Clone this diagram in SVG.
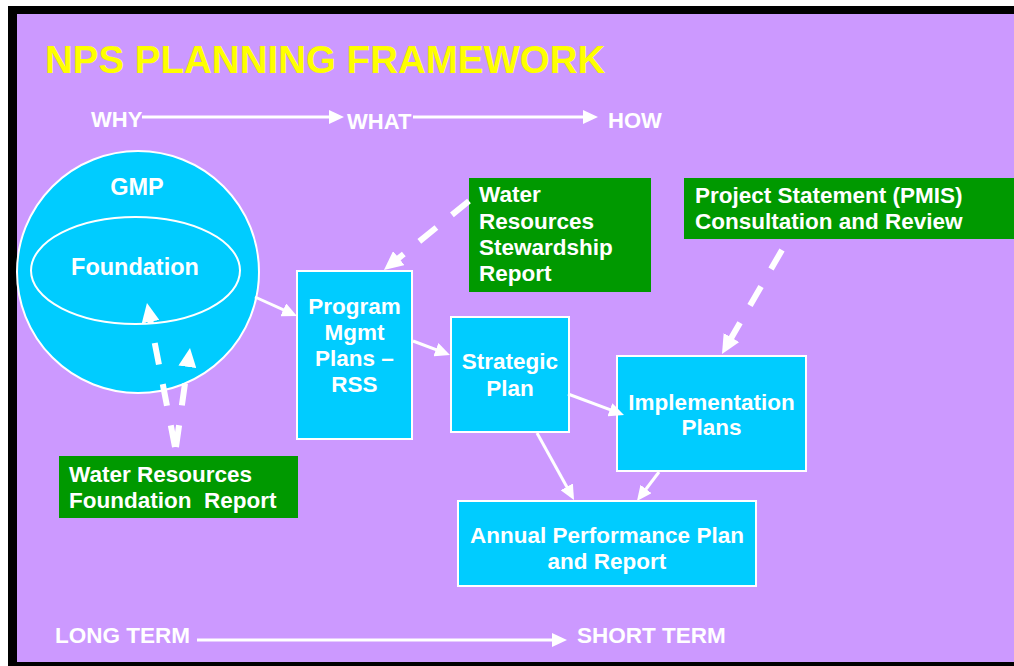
<svg xmlns="http://www.w3.org/2000/svg" width="1014" height="666" viewBox="0 0 1014 666">
  <defs>
    <style>
      .txt { font-family: "Liberation Sans", Arial, sans-serif; font-weight: bold; fill: #FFFFFF; }
      .body { font-size: 22.5px; }
      .axis { font-size: 22px; }
      .mid { text-anchor: middle; }
      .box { fill: #00CCFF; stroke: #FFFFFF; stroke-width: 2; }
      .note { fill: #009900; }
      .solid { fill: none; stroke: #FFFFFF; stroke-width: 3; marker-end: url(#head); }
      .dash { fill: none; stroke: #FFFFFF; stroke-width: 6; stroke-dasharray: 22 20; marker-end: url(#dhead); }
    </style>
    <!-- solid arrowhead: tip sits 5px beyond the line end -->
    <marker id="head" viewBox="0 0 15 14" markerWidth="15" markerHeight="14" markerUnits="userSpaceOnUse" refX="10" refY="7" orient="auto">
      <path d="M0,0 L15,7 L0,14 z" fill="#FFFFFF"/>
    </marker>
    <!-- dashed-line arrowhead: tip sits 8px beyond the line end -->
    <marker id="dhead" viewBox="0 0 19 18" markerWidth="19" markerHeight="18" markerUnits="userSpaceOnUse" refX="11" refY="9" orient="auto">
      <path d="M0,0 L19,9 L0,18 z" fill="#FFFFFF"/>
    </marker>
  </defs>

  <!-- slide frame -->
  <rect x="0" y="0" width="1014" height="666" fill="#FFFFFF"/>
  <rect x="8" y="6" width="1006" height="660" fill="#000000"/>
  <rect x="17" y="14" width="997" height="648" fill="#CC99FF"/>

  <!-- heading -->
  <text x="45" y="73" font-family="Liberation Sans, Arial, sans-serif" font-weight="bold" font-size="38.5" fill="#FFFF00">NPS PLANNING FRAMEWORK</text>

  <!-- why / what / how axis -->
  <g id="axis-top">
    <text class="txt axis" x="91" y="127">WHY</text>
    <text class="txt axis" x="347" y="129">WHAT</text>
    <text class="txt axis" x="608" y="128">HOW</text>
  </g>

  <!-- long term / short term axis -->
  <g id="axis-bottom">
    <text class="txt body" x="55" y="643">LONG TERM</text>
    <text class="txt body" x="577" y="643">SHORT TERM</text>
  </g>

  <!-- GMP with Foundation inside -->
  <g id="gmp">
    <circle cx="138" cy="272" r="121" fill="#00CCFF" stroke="#FFFFFF" stroke-width="2"/>
    <text class="txt mid" x="137" y="195" font-size="23.5">GMP</text>
  </g>
  <g id="foundation">
    <ellipse cx="135.5" cy="270.5" rx="104.5" ry="53.5" fill="none" stroke="#FFFFFF" stroke-width="2"/>
    <text class="txt mid" x="135" y="275" font-size="23.5">Foundation</text>
  </g>

  <g id="wr-foundation-report">
    <rect class="note" x="59" y="456" width="239" height="62"/>
    <text class="txt body" x="69" y="482">Water Resources</text>
    <text class="txt body" x="69" y="508" xml:space="preserve">Foundation  Report</text>
  </g>

  <g id="program-mgmt">
    <rect class="box" x="297" y="271" width="115" height="168"/>
    <text class="txt body mid" x="354.5" y="314">Program</text>
    <text class="txt body mid" x="354.5" y="340">Mgmt</text>
    <text class="txt body mid" x="354.5" y="366">Plans –</text>
    <text class="txt body mid" x="354.5" y="392">RSS</text>
  </g>

  <g id="wr-stewardship-report">
    <rect class="note" x="469" y="178" width="182" height="114"/>
    <text class="txt body" x="479" y="202">Water</text>
    <text class="txt body" x="479" y="229">Resources</text>
    <text class="txt body" x="479" y="255">Stewardship</text>
    <text class="txt body" x="479" y="281">Report</text>
  </g>

  <g id="project-statement">
    <rect class="note" x="684" y="178" width="330" height="61"/>
    <text class="txt body" x="695" y="203">Project Statement (PMIS)</text>
    <text class="txt body" x="695" y="229">Consultation and Review</text>
  </g>

  <g id="strategic-plan">
    <rect class="box" x="451" y="317" width="118" height="115"/>
    <text class="txt body mid" x="510" y="369">Strategic</text>
    <text class="txt body mid" x="510" y="396">Plan</text>
  </g>

  <g id="implementation-plans">
    <rect class="box" x="617" y="356" width="189" height="115"/>
    <text class="txt body mid" x="711.5" y="410">Implementation</text>
    <text class="txt body mid" x="711.5" y="435">Plans</text>
  </g>

  <g id="annual-performance">
    <rect class="box" x="458" y="501" width="298" height="85"/>
    <text class="txt body mid" x="607" y="543">Annual Performance Plan</text>
    <text class="txt body mid" x="607" y="569">and Report</text>
  </g>

  <!-- connectors -->
  <g id="connectors">
    <path class="solid" d="M142,117 L339,117"/>
    <path class="solid" d="M413,117 L593,117"/>
    <path class="solid" d="M197,640 L562,640"/>

    <path class="solid" d="M255,297 L292.4,313.9"/>
    <path class="solid" d="M413,341 L445.3,353.2"/>
    <path class="solid" d="M568,394 L619.3,413.2"/>
    <path class="solid" d="M537,433 L571.6,495.6"/>
    <path class="solid" d="M659,472 L640,497"/>

    <path class="dash" d="M175,447 L148.5,310.9"/>
    <path class="dash" d="M176,447 L188.9,355.9"/>
    <path class="dash" d="M469,201 L390.2,265"/>
    <path class="dash" d="M782,250 L726,347.1"/>
  </g>
</svg>
